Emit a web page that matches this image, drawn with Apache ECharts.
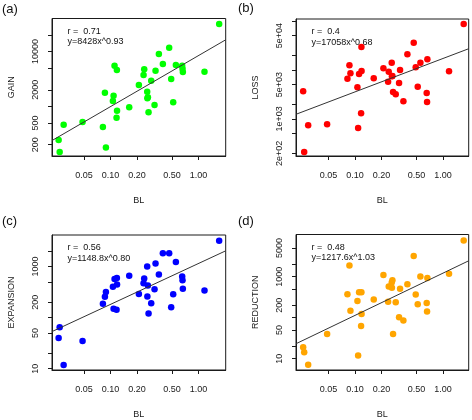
<!DOCTYPE html>
<html>

<head>
    <meta charset="utf-8">
    <title>BL scatter</title>
    <script src="https://cdn.jsdelivr.net/npm/echarts@6/dist/echarts.min.js"></script>
    <style>
        html, body { margin: 0; padding: 0; background: #fff; }
    </style>
</head>

<body>
    <div id="main" style="width: 472px;height:420px;"></div>
    <script type="text/javascript">
        // branch length, shared by the four panels
        var BL = [0.0257, 0.0264, 0.0293, 0.0481, 0.0819, 0.0863, 0.0886, 0.1064, 0.1083, 0.1111,
            0.1171, 0.1181, 0.1186, 0.1631, 0.2101, 0.2374, 0.2415, 0.2612, 0.2624, 0.2659,
            0.2706, 0.2901, 0.3165, 0.3249, 0.3545, 0.3936, 0.4645, 0.4895, 0.516, 0.5532,
            0.6527, 0.6585, 0.6643, 1.171, 1.719];

        var GAIN = [244, 147, 464, 519, 421, 1776, 177, 1252, 1566, 5520,
            622, 4601, 835, 960, 2452, 3729, 4732, 1853, 1401, 1461,
            778, 2940, 1059, 4474, 9006, 5921, 11750, 3154, 1184, 5678,
            5520, 4866, 4230, 4290, 31730];

        var LOSS = [3656, 213, 742, 778, 6622, 12380, 8504, 4412, 655, 8243,
            1303, 29240, 9489, 6728, 10750, 5754, 9194, 14030, 7400, 7505,
            3543, 3177, 5405, 9943, 2288, 20740, 35830, 11270, 4550, 14030,
            3381, 2217, 16400, 9343, 86000];

        var EXPANSION = [40.1, 64.8, 11.9, 35.1, 188, 256, 318, 402, 149, 570,
            143, 596, 445, 660, 291, 472, 587, 1007, 259, 426,
            120, 191, 358, 1149, 699, 1832, 1832, 160, 287, 1235,
            641, 538, 368, 342, 3190];

        var REDUCTION = [18.9, 14.4, 7.07, 39.8, 372, 1880, 147, 254, 12.0, 415,
            62.7, 415, 123, 278, 1090, 245, 576, 717, 536, 814,
            39.8, 236, 102, 508, 85.4, 654, 3185, 366, 212, 1013,
            228, 142, 925, 1171, 7625];

        // power fits y = a * x^b and correlation
        var panelTags = ['(a)', '(b)', '(c)', '(d)'];
        var yNames = ['GAIN', 'LOSS', 'EXPANSION', 'REDUCTION'];
        var fitA = [8428, 17058, 1148.8, 1217.6];
        var fitB = [0.93, 0.68, 0.80, 1.03];
        var rVals = ['0.71', '0.4', '0.56', '0.48'];

        // tick positions
        var xTicks = [0.05, 0.1, 0.2, 0.5, 1];
        var yTicks = [
            [200, 500, 1000, 2000, 5000, 10000, 20000],
            [200, 500, 1000, 2000, 5000, 10000, 20000, 50000, 100000],
            [10, 20, 50, 100, 200, 500, 1000, 2000],
            [10, 20, 50, 100, 200, 500, 1000, 2000, 5000]
        ];
        var yLabels = [
            [200, 500, 2000, 10000],
            [200, 1000, 5000, 50000],
            [10, 50, 200, 1000],
            [10, 50, 200, 1000, 5000]
        ];
        var colors = ['#00ff00', '#ff0000', '#0000ff', '#ffa500'];

        var yData = [GAIN, LOSS, EXPANSION, REDUCTION];

        // layout of the 2x2 panels (px)
        var grids = [
            { left: 52, top: 18.5, width: 173.7, height: 137.5 },
            { left: 296, top: 19, width: 172.7, height: 137 },
            { left: 52, top: 235, width: 173.7, height: 139 },
            { left: 296, top: 234.5, width: 172.7, height: 139.5 }
        ];
        var tagPos = [[2, 2.5], [238, 2], [2, 214.5], [238, 214.5]];
        var xRange = [[0.0216, 2.04], [0.0213, 1.96], [0.0216, 2.04], [0.0213, 1.96]];
        var yRange = [[124.5, 40000], [176, 108700], [9.45, 4150], [5.28, 10670]];

        var ink = '#1a1a1a';

        function sci(v) {
            var e = Math.floor(Math.log10(v) + 1e-9);
            var m = Math.round(v / Math.pow(10, e));
            return m + 'e+' + (e < 10 ? '0' + e : e);
        }

        var gridOpt = [], xAxes = [], yAxes = [], series = [], graphics = [];

        for (var k = 0; k < 4; k++) {
            var g = grids[k];
            gridOpt.push({
                left: g.left, top: g.top, width: g.width, height: g.height,
                show: true, borderColor: ink, borderWidth: 1
            });
            xAxes.push({
                type: 'log', logBase: 10, gridIndex: k,
                min: xRange[k][0], max: xRange[k][1],
                name: 'BL', nameLocation: 'middle', nameGap: 40,
                nameTextStyle: { fontSize: 9, color: ink, fontFamily: 'Liberation Sans' },
                axisLine: { show: true, lineStyle: { color: ink, width: 1 } },
                axisTick: { show: true, inside: false, length: 4, lineStyle: { color: ink }, customValues: xTicks },
                axisLabel: {
                    customValues: xTicks, fontSize: 9, color: ink, margin: 15,
                    fontFamily: 'Liberation Sans',
                    formatter: function (v) { return Number(v).toFixed(2); }
                },
                splitLine: { show: false }
            });
            yAxes.push({
                type: 'log', logBase: 10, gridIndex: k,
                min: yRange[k][0], max: yRange[k][1],
                name: yNames[k], nameLocation: 'middle', nameGap: 36,
                nameTextStyle: { fontSize: 9, color: ink, fontFamily: 'Liberation Sans' },
                axisLine: { show: true, lineStyle: { color: ink, width: 1 } },
                axisTick: { show: true, inside: false, length: 4, lineStyle: { color: ink }, customValues: yTicks[k] },
                axisLabel: {
                    customValues: yLabels[k], fontSize: 9, color: ink, margin: 12, rotate: 90,
                    fontFamily: 'Liberation Sans',
                    formatter: (k === 1) ? sci : function (v) { return String(Math.round(v)); }
                },
                splitLine: { show: false }
            });

            var pts = BL.map(function (x, i) { return [x, yData[k][i]]; });
            series.push({
                type: 'scatter', xAxisIndex: k, yAxisIndex: k,
                data: pts, symbolSize: 6.5,
                itemStyle: { color: colors[k], opacity: 1 }
            });

            // fitted power line over the whole x range
            var x0 = xRange[k][0], x1 = xRange[k][1];
            series.push({
                type: 'line', xAxisIndex: k, yAxisIndex: k,
                data: [[x0, fitA[k] * Math.pow(x0, fitB[k])], [x1, fitA[k] * Math.pow(x1, fitB[k])]],
                symbol: 'none', clip: true,
                lineStyle: { color: '#333', width: 1 }
            });

            graphics.push({
                type: 'text', left: tagPos[k][0], top: tagPos[k][1],
                style: { text: panelTags[k], font: '13px "Liberation Sans"', fill: '#111' }
            });
            graphics.push({
                type: 'text', left: g.left + 15.5, top: g.top + 8.5,
                style: { text: 'r =  ' + rVals[k], font: '9px "Liberation Sans"', fill: '#111' }
            });
            graphics.push({
                type: 'text', left: g.left + 15.5, top: g.top + 19,
                style: {
                    text: 'y=' + fitA[k] + 'x^' + fitB[k].toFixed(2),
                    font: '9px "Liberation Sans"', fill: '#111'
                }
            });
        }

        var myChart = echarts.init(document.getElementById('main'));
        myChart.setOption({
            animation: false,
            backgroundColor: '#fff',
            grid: gridOpt,
            xAxis: xAxes,
            yAxis: yAxes,
            series: series,
            graphic: graphics
        });
    </script>
</body>

</html>
